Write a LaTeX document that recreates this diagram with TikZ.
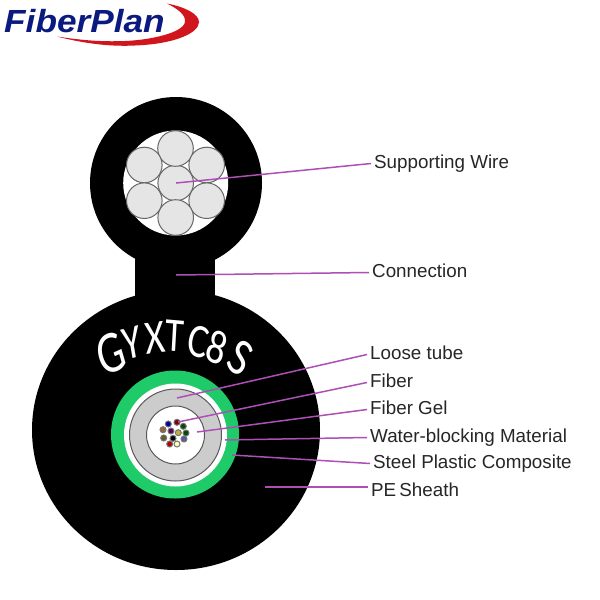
\documentclass[tikz,border=0pt]{standalone}
\usepackage{fontspec}
\setmainfont{Liberation Sans}
\newfontfamily\printfont{Carlito}
\definecolor{logoblue}{HTML}{0B1A7E}
\definecolor{logored}{HTML}{D0151C}
\definecolor{sheathgreen}{HTML}{1FCB68}
\definecolor{leadercolor}{HTML}{AD4FB5}
\tikzset{
    partlabel/.style={anchor=west, inner xsep=3pt, inner ysep=0pt, text height=12pt, text depth=3pt, font=\fontsize{18.8}{20}\selectfont, text=black!85},
    leader/.style={draw=leadercolor, line width=1.5pt},
    strand/.style={draw=black!60, line width=1pt, top color=black!10, middle color=white, bottom color=black!10},
    printletter/.style={text=white, font=\printfont\fontsize{48}{48}\selectfont, inner sep=0pt, xscale=0.8},
    fiberdot/.style={draw=black!55, line width=1pt},
}
\begin{document}
\begin{tikzpicture}[x=1pt,y=-1pt]
    \useasboundingbox (0,0) rectangle (600,600);
    \fill[white] (0,0) rectangle (600,600);

    % Logo
    \fill[logored] (57,36.5) .. controls (90,45) and (115,46.5) .. (135,45.5)
        .. controls (175,44) and (199,33) .. (199,22)
        .. controls (199,14) and (185,7) .. (167,3.5)
        .. controls (178,9) and (186,15) .. (185,22)
        .. controls (183,33) and (150,40) .. (125,41)
        .. controls (100,42) and (80,40) .. (57,36.5) -- cycle;
    \node[anchor=base west, inner sep=0pt, xscale=1.1, text=logoblue, font=\fontsize{32}{32}\selectfont\bfseries\itshape] (logotext) at (4,32) {FiberPlan};

    % Cable body
    \fill[black] (176,183) circle (86);
    \fill[black] (135,250) rectangle (215,305);
    \fill[black] (176,430) ellipse (144 and 140);

    % Supporting wire
    \fill[white] (175.7,183) circle (52.5);
    \foreach \x/\y in {175.7/183, 175.5/148.5, 206.7/165, 206.7/200.7, 175.7/217.5, 144.3/165, 144.3/200.7} {
        \draw[strand] (\x,\y) circle (17.8);
    }

    % Tube rings
    \fill[sheathgreen] (175,434.5) circle (64);
    \fill[white] (175.5,435) circle (51.5);
    \draw[draw=black!65, fill=black!20, line width=1pt] (175.5,435) circle (46);
    \draw[draw=black!65, fill=white, line width=1pt] (175.5,435) circle (29);

    % Fibers
    \foreach \x/\y/\c in {168.3/424/blue!60!black, 177/422.3/red!50!black, 183.3/426.3/green!30!black,
        163/429.7/brown!80!black, 171/431/violet!70!black, 178.3/432.7/yellow!70!black,
        186/433/black!70!green, 163.7/438/olive!60!black, 173/438.3/black,
        184/439/blue!30!gray, 169.7/444/red!70!black, 177/444/yellow!30!white} {
        \draw[fiberdot, fill=\c] (\x,\y) circle (3);
    }

    % Printed type
    \node[printletter, rotate=20, xscale=0.9, font=\printfont\fontsize{60}{60}\selectfont] (letterg) at (111,354) {G};
    \node[printletter, rotate=12] (lettery) at (132,343) {Y};
    \node[printletter, rotate=6] (letterx) at (155,338) {X};
    \node[printletter, rotate=-4] (lettert) at (175,336) {T};
    \node[printletter, rotate=-14] (letterc) at (198,342) {C};
    \node[printletter, rotate=-20] (lettereight) at (217,347) {8};
    \node[printletter, rotate=-33, font=\printfont\fontsize{54}{54}\selectfont] (letters) at (240,358) {S};

    % Labels
    \node[partlabel] (wirelabel) at (371,163.5) {Supporting Wire};
    \node[partlabel] (connectionlabel) at (369,272.5) {Connection};
    \node[partlabel] (tubelabel) at (367,354.5) {Loose tube};
    \node[partlabel] (fiberlabel) at (367,382.5) {Fiber};
    \node[partlabel] (gellabel) at (367,409.5) {Fiber Gel};
    \node[partlabel] (waterlabel) at (367,437.5) {Water-blocking Material};
    \node[partlabel] (steellabel) at (370,463.5) {Steel Plastic Composite};
    \node[partlabel, text height=19pt, text depth=1pt] (pelabel) at (368,487) {PE\,Sheath};

    % Leader lines
    \coordinate (wirepoint) at (176,183);
    \coordinate (connectionpoint) at (176,275);
    \coordinate (tubepoint) at (177,398);
    \coordinate (fiberpoint) at (178,422);
    \coordinate (gelpoint) at (197,432);
    \coordinate (waterpoint) at (225,440);
    \coordinate (steelpoint) at (232,455);
    \coordinate (pepoint) at (265,487);
    \draw[leader] (wirepoint) -- (wirelabel.west);
    \draw[leader] (connectionpoint) -- (connectionlabel.west);
    \draw[leader] (tubepoint) -- (tubelabel.west);
    \draw[leader] (fiberpoint) -- (fiberlabel.west);
    \draw[leader] (gelpoint) -- (gellabel.west);
    \draw[leader] (waterpoint) -- (waterlabel.west);
    \draw[leader] (steelpoint) -- (steellabel.west);
    \draw[leader] (pepoint) -- (pelabel.west);
\end{tikzpicture}
\end{document}
